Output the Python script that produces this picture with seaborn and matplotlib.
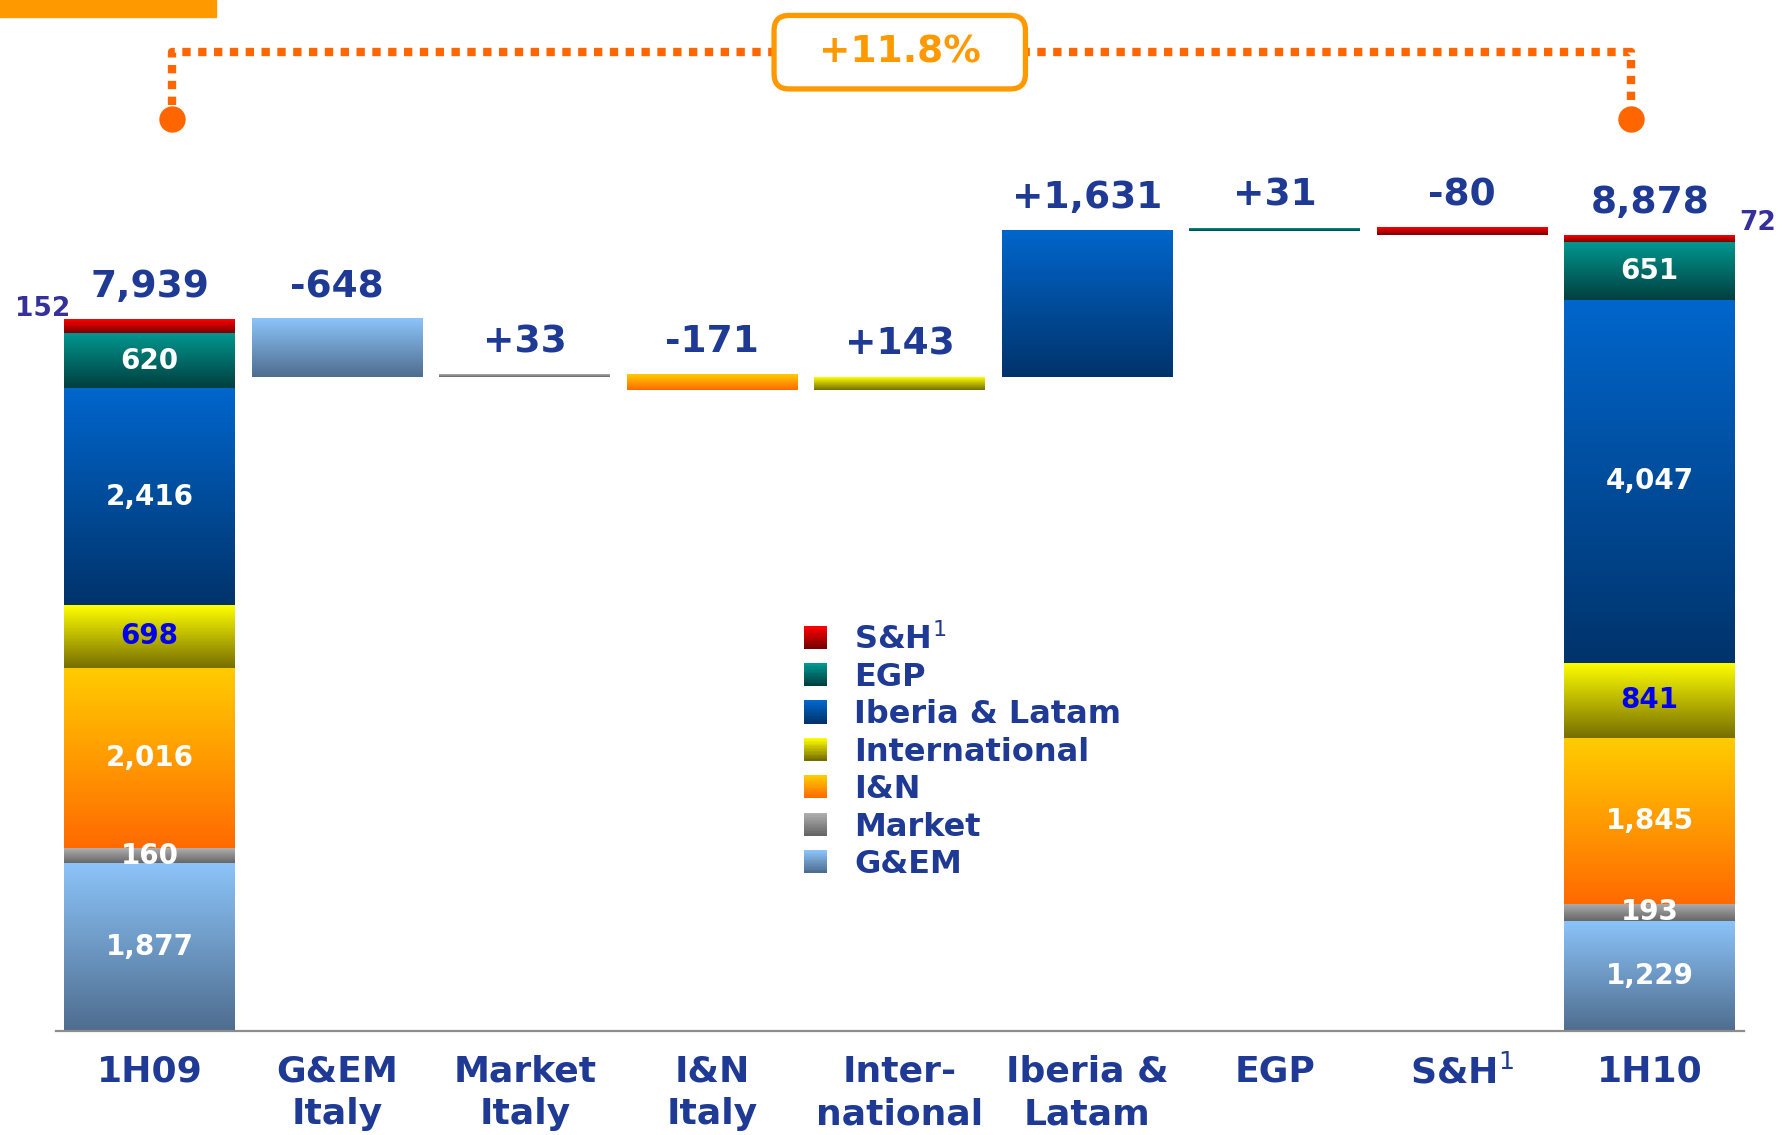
import numpy as np
import pandas as pd
import seaborn as sns
import matplotlib.pyplot as plt
from matplotlib.colors import LinearSegmentedColormap
from matplotlib.patches import Patch, Rectangle
from matplotlib.legend_handler import HandlerBase

# Data (EBITDA, million euro)
categories = ["1H09", "G&EM\nItaly", "Market\nItaly", "I&N\nItaly", "Inter-\nnational",
              "Iberia &\nLatam", "EGP", "S&H$^1$", "1H10"]
segments = ["G&EM", "Market", "I&N", "International", "Iberia & Latam", "EGP", "S&H"]
legend_labels = ["G&EM", "Market", "I&N", "International", "Iberia & Latam", "EGP", "S&H$^1$"]
ebitda_1h09 = [1877, 160, 2016, 698, 2416, 620, 152]
ebitda_1h10 = [1229, 193, 1845, 841, 4047, 651, 72]
deltas = [-648, 33, -171, 143, 1631, 31, -80]
growth_label = "+11.8%"

# gradient colours, top -> bottom
grad_top = ["#8cc4fa", "#b0b0b0", "#ffcc00", "#ffff00", "#0066cc", "#009890", "#ff0000"]
grad_bot = ["#4e6d8e", "#666666", "#ff6a00", "#766e00", "#00336b", "#003f3f", "#7a0000"]
inside_col = ["white", "white", "white", "#0000ee", "white", "white", None]

blue = "#1e3a94"
purple = "#35309a"
orange = "#ff9900"
dot_orange = "#ff6600"

# build table of floating bars
rows = []
b = 0
for seg, v in zip(segments, ebitda_1h09):
    rows.append((categories[0], seg, b, v))
    b += v
total_09 = sum(ebitda_1h09)
running = total_09
tops = [total_09]
for i, (seg, d) in enumerate(zip(segments, deltas)):
    rows.append((categories[i + 1], seg, min(running, running + d), abs(d)))
    tops.append(max(running, running + d))
    running += d
b = 0
for seg, v in zip(segments, ebitda_1h10):
    rows.append((categories[-1], seg, b, v))
    b += v
total_10 = sum(ebitda_1h10)
tops.append(total_10)

df = pd.DataFrame(rows, columns=["cat", "segment", "bottom", "height"])
df["pos"] = df["cat"].map({c: i for i, c in enumerate(categories)})

sns.set_theme(style="white")
plt.rcParams["font.family"] = ["DejaVu Sans"]

fig = plt.figure(figsize=(17.82, 11.35), dpi=100)
ax = fig.add_axes([56 / 1782, 104 / 1135, 1687.5 / 1782, 1031 / 1135])

grad = np.linspace(0, 1, 256).reshape(-1, 1)
for k, seg in enumerate(segments):
    sub = df[df.segment == seg].sort_values("pos")
    n0 = len(ax.patches)
    sns.barplot(data=sub, x="cat", y="height", order=categories,
                bottom=sub["bottom"].to_numpy(), color=grad_top[k],
                width=0.91, errorbar=None, linewidth=0, ax=ax)
    cmap = LinearSegmentedColormap.from_list(seg, [grad_top[k], grad_bot[k]])
    for p in ax.patches[n0:]:
        x0, y0, w, h = p.get_x(), p.get_y(), p.get_width(), p.get_height()
        ax.imshow(grad, cmap=cmap, aspect="auto", origin="upper",
                  extent=(x0, x0 + w, y0, y0 + h), zorder=2, interpolation="bilinear")
        p.set_facecolor("none")

ax.set_xlim(-0.5, len(categories) - 0.5)
ax.set_ylim(0, 11500)

# value labels above bars
top_texts = [f"{total_09:,}"] + [f"{d:+,}" for d in deltas] + [f"{total_10:,}"]
for i, (t, y) in enumerate(zip(top_texts, tops)):
    ax.annotate(t, (i, y), xytext=(0, 16), textcoords="offset points",
                ha="center", va="baseline", fontsize=27, fontweight="bold",
                color=blue, zorder=4)

# labels inside the stacked bars
for pos, vals in [(0, ebitda_1h09), (len(categories) - 1, ebitda_1h10)]:
    b = 0
    for k, v in enumerate(vals):
        if inside_col[k] is not None:
            ax.text(pos, b + v / 2, f"{v:,}", ha="center", va="center",
                    fontsize=20, fontweight="bold", color=inside_col[k], zorder=4)
        b += v

half = 0.455
ax.annotate(f"{ebitda_1h09[-1]}", (-half + 0.03, total_09), xytext=(0, 2),
            textcoords="offset points", ha="right", va="baseline",
            fontsize=19, fontweight="bold", color=purple, zorder=4)
ax.annotate(f"{ebitda_1h10[-1]}", (len(categories) - 1 + half, total_10), xytext=(3, 4),
            textcoords="offset points", ha="left", va="baseline",
            fontsize=19, fontweight="bold", color=purple, zorder=4)

# growth bracket
xl, xr = 0.12, len(categories) - 1.1
yh, yv, yd = 10918, 10330, 10171
ax.plot([xl, xl, xr, xr], [yv, yh, yh, yv], color=dot_orange, lw=6,
        linestyle=(0, (1, 0.9)), dash_capstyle="butt", zorder=3, clip_on=False)
ax.plot([xl, xr], [yd, yd], "o", color=dot_orange, markersize=18, zorder=3, clip_on=False)
ax.text((len(categories) - 1) / 2, yh, "  " + growth_label + "  ", ha="center", va="center",
        fontsize=27, fontweight="bold", color=orange, zorder=5,
        bbox=dict(boxstyle="round,pad=0.5,rounding_size=0.4", fc="white", ec=orange, lw=3.8))

# axes styling
for s in ["top", "right", "left"]:
    ax.spines[s].set_visible(False)
ax.spines["bottom"].set_color("#8c8c8c")
ax.spines["bottom"].set_linewidth(1.6)
ax.set(xlabel="", ylabel="", yticks=[])
ax.tick_params(axis="x", length=0, pad=17, labelsize=26, labelcolor=blue)
for lab in ax.get_xticklabels():
    lab.set_fontweight("bold")
    lab.set_linespacing(1.32)


# legend with gradient swatches
class GradientHandler(HandlerBase):
    def __init__(self, c_top, c_bot):
        super().__init__()
        self.cmap = LinearSegmentedColormap.from_list("g", [c_top, c_bot])

    def create_artists(self, legend, orig_handle, xdescent, ydescent, width, height, fontsize, trans):
        n = 16
        arts = []
        for i in range(n):
            y0 = -ydescent + height * (1 - (i + 1) / n)
            arts.append(Rectangle((-xdescent, y0), width, height / n + 0.3,
                                  facecolor=self.cmap(i / (n - 1)), edgecolor="none",
                                  transform=trans))
        return arts


handles = [Patch(label=l) for l in legend_labels]
hmap = {h: GradientHandler(grad_top[k], grad_bot[k]) for k, h in enumerate(handles)}
order = list(range(len(segments)))[::-1]
fig.legend([handles[i] for i in order], [legend_labels[i] for i in order],
           handler_map=hmap, loc="upper left", bbox_to_anchor=(788 / 1782, 528 / 1135),
           frameon=False, borderpad=0, handlelength=0.72, handleheight=0.72,
           handletextpad=0.85, labelspacing=0.2,
           prop={"weight": "bold", "size": 23}, labelcolor=blue)

# orange tab in the corner
fig.patches.append(Rectangle((0, 1 - 17 / 1135), 216 / 1782, 17 / 1135,
                             transform=fig.transFigure, color=orange, zorder=0))

fig.savefig("out.png", dpi=100, facecolor="white")
